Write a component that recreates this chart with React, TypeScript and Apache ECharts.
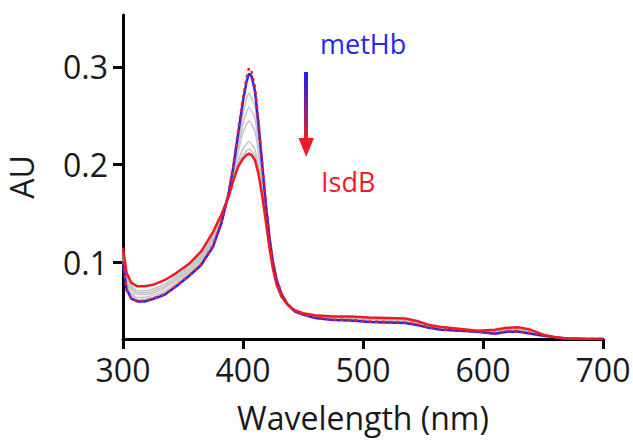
import React, { useEffect, useRef } from "react";
import * as echarts from "echarts";

// Wavelength grid (nm) for the metHb / IsdB curves
const wavelengths = [
  300, 303, 307, 312, 318, 325, 335, 345, 355, 365, 375, 382, 388, 392, 396, 400, 403, 405, 407, 410,
  413, 416, 419, 422, 425, 428, 432, 437, 443, 450, 460, 475, 490, 505, 520, 535, 545, 555, 565, 580,
  595, 610, 620, 630, 640, 650, 660, 670, 685, 700,
];

// metHb (start, blue)
const metHb = [
  0.100, 0.072, 0.063, 0.060, 0.060, 0.0625, 0.067, 0.076, 0.086, 0.097, 0.116, 0.140, 0.170, 0.198, 0.232, 0.265, 0.285, 0.293, 0.291, 0.275,
  0.240, 0.200, 0.160, 0.126, 0.100, 0.082, 0.068, 0.057, 0.050, 0.0465, 0.043, 0.041, 0.0405, 0.039, 0.0385, 0.038, 0.036, 0.033, 0.031, 0.030,
  0.029, 0.027, 0.029, 0.029, 0.027, 0.025, 0.0235, 0.022, 0.0215, 0.0215,
];

// metHb repeat (red dashed)
const metHbDashed = [
  0.101, 0.072, 0.0625, 0.0605, 0.0605, 0.063, 0.0675, 0.0765, 0.0865, 0.0975, 0.117, 0.141, 0.171, 0.200, 0.235, 0.268, 0.289, 0.299, 0.296, 0.279,
  0.243, 0.202, 0.161, 0.127, 0.101, 0.0825, 0.0685, 0.0575, 0.0505, 0.047, 0.0435, 0.0415, 0.041, 0.0395, 0.039, 0.0385, 0.0365, 0.0335, 0.0315, 0.0305,
  0.0295, 0.0275, 0.0295, 0.0295, 0.0275, 0.0255, 0.0235, 0.022, 0.0215, 0.0215,
];

// IsdB (end, red)
const isdB = [
  0.115, 0.089, 0.079, 0.0755, 0.0755, 0.077, 0.082, 0.0895, 0.0985, 0.111, 0.131, 0.149, 0.167, 0.184, 0.198, 0.206, 0.210, 0.2113, 0.210, 0.2045,
  0.190, 0.168, 0.142, 0.115, 0.093, 0.077, 0.065, 0.057, 0.051, 0.048, 0.046, 0.0445, 0.0445, 0.0435, 0.043, 0.0425, 0.040, 0.036, 0.034, 0.032,
  0.030, 0.031, 0.033, 0.0335, 0.031, 0.026, 0.0235, 0.022, 0.0215, 0.0215,
];

// Intermediate (gray) curves on a coarser grid
const grayWavelengths = [
  300, 305, 312, 320, 335, 350, 365, 378, 388, 395, 400, 405, 410, 415, 420, 425, 432, 440, 450, 470,
  500, 540, 560, 600, 630, 660, 700,
];
const gray1 = [
  0.102, 0.070, 0.062, 0.0625, 0.069, 0.083, 0.100, 0.129, 0.170, 0.216, 0.252, 0.273, 0.259, 0.205, 0.145, 0.099, 0.068, 0.053, 0.0468, 0.042,
  0.040, 0.0375, 0.0325, 0.0285, 0.030, 0.0235, 0.0215,
];
const gray2 = [
  0.104, 0.072, 0.064, 0.0645, 0.071, 0.085, 0.102, 0.131, 0.169, 0.212, 0.242, 0.259, 0.247, 0.198, 0.142, 0.098, 0.067, 0.053, 0.047, 0.0425,
  0.041, 0.038, 0.033, 0.029, 0.031, 0.0235, 0.0215,
];
const gray3 = [
  0.107, 0.075, 0.067, 0.067, 0.074, 0.087, 0.104, 0.133, 0.169, 0.207, 0.233, 0.2445, 0.234, 0.192, 0.139, 0.097, 0.067, 0.0535, 0.047, 0.043,
  0.0415, 0.0385, 0.0335, 0.029, 0.031, 0.0235, 0.0215,
];
const gray4 = [
  0.109, 0.077, 0.069, 0.069, 0.076, 0.089, 0.106, 0.135, 0.168, 0.200, 0.216, 0.2235, 0.215, 0.182, 0.136, 0.095, 0.066, 0.0535, 0.0475, 0.0435,
  0.042, 0.039, 0.034, 0.0295, 0.032, 0.0235, 0.0215,
];
const gray5 = [
  0.111, 0.079, 0.071, 0.071, 0.078, 0.091, 0.108, 0.137, 0.168, 0.198, 0.210, 0.216, 0.209, 0.179, 0.134, 0.094, 0.066, 0.0538, 0.0478, 0.044,
  0.043, 0.040, 0.0345, 0.030, 0.0325, 0.0235, 0.0215,
];

const xTicks = [300, 400, 500, 600, 700];
const yTicks = [0.1, 0.2, 0.3];

const FONT = "'Open Sans', 'Noto Sans', sans-serif";
const BLUE = "#2626ee";
const RED = "#ec1c24";
const TEXT = "#1a1a1a";

const pairs = (xs: number[], ys: number[]) => xs.map((x, i) => [x, ys[i]]);

export default function App() {
  const ref = useRef<HTMLDivElement>(null);
  useEffect(() => {
    document.body.style.margin = "0";
    const chart = echarts.init(ref.current!, undefined, { renderer: "svg" });
    const grays = [gray1, gray2, gray3, gray4, gray5];
    const lineBase = { type: "line", showSymbol: false, symbol: "none" };
    chart.setOption({
      animation: false,
      backgroundColor: "#ffffff",
      grid: { left: 123, right: 30, top: 15, bottom: 102, containLabel: false, outerBoundsMode: "none" },
      xAxis: {
        type: "value",
        min: 300,
        max: 700,
        interval: 100,
        name: "Wavelength (nm)",
        nameLocation: "middle",
        nameGap: 62,
        nameTextStyle: { fontSize: 32, fontFamily: FONT, color: TEXT },
        axisLine: { show: true, onZero: false, lineStyle: { color: "#000", width: 3 } },
        axisTick: { show: true, length: 10, lineStyle: { color: "#000", width: 3 }, customValues: xTicks },
        axisLabel: { fontSize: 32, fontFamily: FONT, color: TEXT, margin: 14, customValues: xTicks },
        splitLine: { show: false },
      },
      yAxis: {
        type: "value",
        min: 0.0216,
        max: 0.353,
        name: "AU",
        nameLocation: "middle",
        nameRotate: 90,
        nameGap: 86,
        nameTextStyle: { fontSize: 32, fontFamily: FONT, color: TEXT },
        axisLine: { show: true, onZero: false, lineStyle: { color: "#000", width: 3 } },
        axisTick: { show: true, length: 10, lineStyle: { color: "#000", width: 3 }, customValues: yTicks },
        axisLabel: {
          fontSize: 32,
          fontFamily: FONT,
          color: TEXT,
          margin: 15,
          customValues: yTicks,
          formatter: (v: number) => v.toFixed(1),
        },
        splitLine: { show: false },
      },
      series: [
        ...grays.map((g, i) => ({
          ...lineBase,
          smooth: 0.15,
          name: "step" + (i + 1),
          data: pairs(grayWavelengths, g),
          lineStyle: { color: "#c4c4c4", width: 1.5 },
          z: 2,
        })),
        {
          ...lineBase,
          smooth: false,
          name: "metHb",
          data: pairs(wavelengths, metHb),
          lineStyle: { color: BLUE, width: 2.5 },
          z: 3,
        },
        {
          ...lineBase,
          smooth: false,
          name: "metHb (repeat)",
          data: pairs(wavelengths, metHbDashed),
          lineStyle: { color: RED, width: 2.5, type: [3, 4] },
          z: 4,
        },
        {
          ...lineBase,
          smooth: false,
          name: "IsdB",
          data: pairs(wavelengths, isdB),
          lineStyle: { color: RED, width: 2.5 },
          z: 5,
        },
      ],
      graphic: [
        {
          type: "text",
          left: 320,
          top: 30,
          style: { text: "metHb", fill: BLUE, font: `27px ${FONT}` },
        },
        {
          type: "text",
          left: 321,
          top: 168,
          style: { text: "IsdB", fill: RED, font: `27px ${FONT}` },
        },
        {
          type: "rect",
          shape: { x: 304, y: 72, width: 4, height: 68 },
          style: {
            fill: new echarts.graphic.LinearGradient(0, 0, 0, 1, [
              { offset: 0, color: "#2020f0" },
              { offset: 1, color: "#ec1c24" },
            ]),
          },
        },
        {
          type: "polygon",
          shape: { points: [[298.5, 138], [314, 138], [306.2, 157]] },
          style: { fill: RED },
        },
      ],
    });
    return () => chart.dispose();
  }, []);
  return <div ref={ref} style={{ width: 633, height: 441 }} />;
}
